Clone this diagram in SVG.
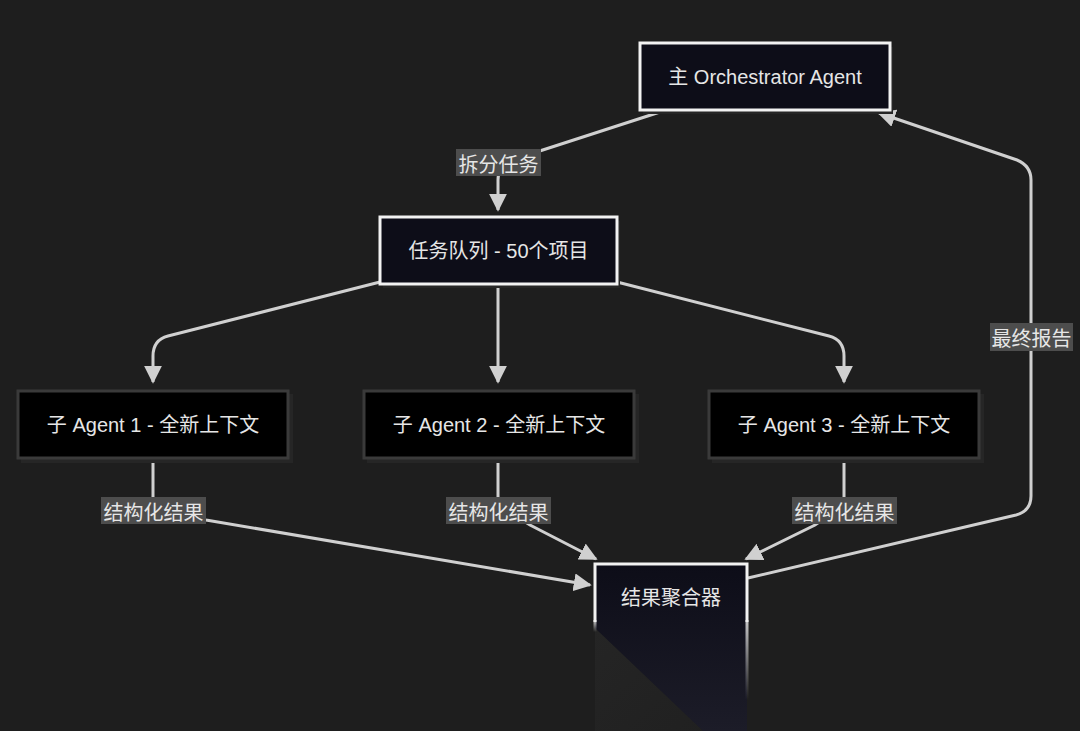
<svg xmlns="http://www.w3.org/2000/svg" width="1080" height="731" viewBox="0 0 1080 731">
<defs>
<style>
.t{font-family:"Liberation Sans","Noto Sans CJK SC",sans-serif;font-size:20px;fill:#e6e6e6;text-anchor:middle;dominant-baseline:central}
.lt{font-family:"Noto Sans CJK SC","Liberation Sans",sans-serif;font-size:20px;fill:#e6e6e6;text-anchor:middle;dominant-baseline:central}
.main{fill:#0d0d18;stroke:#f2f2f2;stroke-width:3}
.sub{fill:#000;stroke:#3a3a3a;stroke-width:3}
.sh{fill:#262626}
.edge{fill:none;stroke:#d0d0d0;stroke-width:3}
.lb{fill:#4d4d4d}
</style>
<marker id="ah" viewBox="0 0 10 10" refX="9" refY="5" markerWidth="6" markerHeight="6" markerUnits="strokeWidth" orient="auto">
<path d="M0,0 L10,5 L0,10 z" fill="#d0d0d0"/>
</marker>
<linearGradient id="fill" x1="0" y1="0" x2="0" y2="1">
<stop offset="0" stop-color="#0d0d18"/>
<stop offset="1" stop-color="#1c1c28"/>
</linearGradient>
<linearGradient id="side" x1="0" y1="0" x2="0" y2="1">
<stop offset="0" stop-color="#f2f2f2" stop-opacity="0.8"/>
<stop offset="1" stop-color="#f2f2f2" stop-opacity="0"/>
</linearGradient>
<linearGradient id="lside" x1="0" y1="0" x2="1" y2="1">
<stop offset="0" stop-color="#2c2c2c" stop-opacity="0.5"/>
<stop offset="1" stop-color="#2a2a2a" stop-opacity="0.2"/>
</linearGradient>
</defs>
<rect width="1080" height="731" fill="#1e1e1e"/>
<g id="connectors">
<path class="edge" d="M660,112 L515,159 Q498,165 498,180 L498,210" marker-end="url(#ah)"/>
<path class="edge" d="M380,282 L168,336 Q153,340 153,356 L153,382" marker-end="url(#ah)"/>
<path class="edge" d="M498,285 L498,382" marker-end="url(#ah)"/>
<path class="edge" d="M617,282 L829,336 Q844,340 844,356 L844,382" marker-end="url(#ah)"/>
<path class="edge" d="M153,459 L153,505 L206,520 L590,585" marker-end="url(#ah)"/>
<path class="edge" d="M498,459 L498,505 L530,525 L596,559" marker-end="url(#ah)"/>
<path class="edge" d="M844,459 L844,505 L815,525 L746,559" marker-end="url(#ah)"/>
<path class="edge" d="M748,578 L1016,515 Q1031,511 1031,496 L1031,180 Q1031,166 1017,160 L879,113" marker-end="url(#ah)"/>
<g id="label-split">
<rect class="lb" x="456" y="149" width="85" height="27"/>
<text class="lt" x="498.5" y="163">拆分任务</text>
</g>
<g id="label-r1">
<rect class="lb" x="101" y="497" width="105" height="27"/>
<text class="lt" x="153.5" y="511">结构化结果</text>
</g>
<g id="label-r2">
<rect class="lb" x="446" y="497" width="105" height="27"/>
<text class="lt" x="498.5" y="511">结构化结果</text>
</g>
<g id="label-r3">
<rect class="lb" x="792" y="497" width="105" height="27"/>
<text class="lt" x="844.5" y="511">结构化结果</text>
</g>
<g id="label-final">
<rect class="lb" x="990" y="323" width="83" height="28"/>
<text class="lt" x="1031.5" y="337">最终报告</text>
</g>
</g>
<g id="orchestrator">
<rect class="sh" x="643" y="47" width="250" height="67"/>
<rect class="main" x="640" y="43" width="250" height="67"/>
<text class="t" x="765" y="77">主 Orchestrator Agent</text>
</g>
<g id="queue">
<rect class="sh" x="383" y="221" width="237" height="67"/>
<rect class="main" x="380" y="217" width="237" height="67"/>
<text class="t" x="498.5" y="251">任务队列 - 50个项目</text>
</g>
<g id="agent1">
<rect class="sh" x="21" y="394" width="272" height="69"/>
<rect class="sub" x="18" y="391" width="270" height="67"/>
<text class="t" x="153" y="425">子 Agent 1 - 全新上下文</text>
</g>
<g id="agent2">
<rect class="sh" x="367" y="394" width="272" height="69"/>
<rect class="sub" x="364" y="391" width="270" height="67"/>
<text class="t" x="499" y="425">子 Agent 2 - 全新上下文</text>
</g>
<g id="agent3">
<rect class="sh" x="712" y="394" width="272" height="69"/>
<rect class="sub" x="709" y="391" width="270" height="67"/>
<text class="t" x="844" y="425">子 Agent 3 - 全新上下文</text>
</g>
<g id="aggregator">
<polygon points="595,628 703,731 595,731" fill="url(#lside)"/>
<polygon points="595,564 747,564 747,731 703,731 595,628" fill="url(#fill)"/>
<path d="M595,622 L595,564 L747,564 L747,622" fill="none" stroke="#f2f2f2" stroke-width="3"/>
<rect x="745.5" y="620" width="3" height="80" fill="url(#side)"/>
<rect x="593.5" y="620" width="3" height="12" fill="url(#side)"/>
<text class="t" x="671" y="598">结果聚合器</text>
</g>
</svg>
